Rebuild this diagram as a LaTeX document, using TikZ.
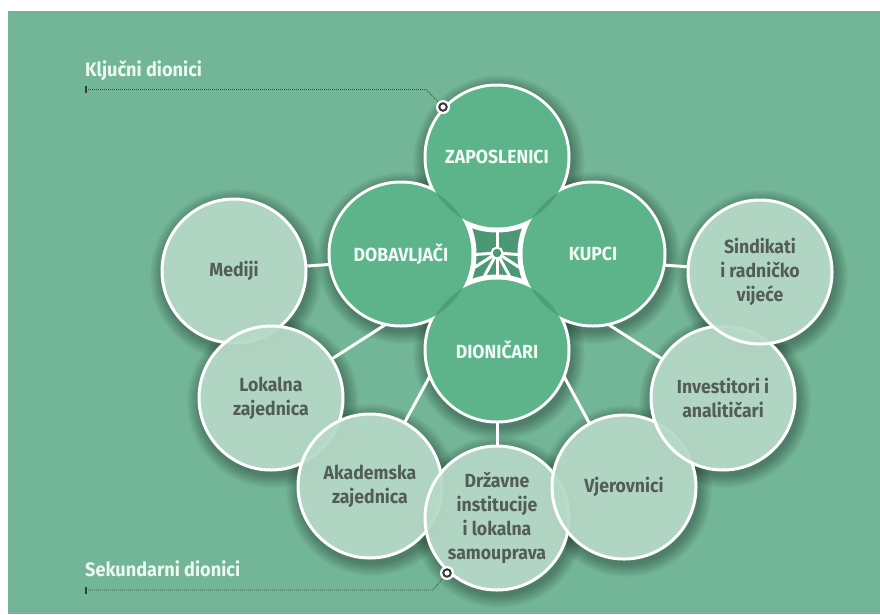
\documentclass[tikz,border=0pt]{standalone}
\usepackage{fontspec}
\setmainfont[FakeStretch=0.93]{Fira Sans}
\usetikzlibrary{calc}
\definecolor{bgC}{HTML}{73B697}
\definecolor{coreC}{HTML}{5DB48A}
\definecolor{lensC}{HTML}{4E9F79}
\definecolor{outerC}{HTML}{B7DAC8}
\definecolor{outerT}{HTML}{535D58}
\definecolor{coreT}{HTML}{F2F8F4}
\definecolor{labelT}{HTML}{EDF7F1}
\definecolor{winC}{HTML}{4C9774}
\definecolor{markC}{HTML}{3A3A3C}
\definecolor{leadC}{HTML}{3F4D46}
\pgfdeclarelayer{bgl}\pgfdeclarelayer{shad}\pgfdeclarelayer{win}\pgfdeclarelayer{lnk}\pgfdeclarelayer{cb}
\pgfsetlayers{bgl,shad,win,lnk,cb,main}
\begin{document}
\begin{tikzpicture}[x=1pt,y=-1pt,
  corec/.style={circle, minimum size=141pt, inner sep=0pt, outer sep=0pt, fill=coreC, text=coreT,
    font=\fontsize{19}{24}\selectfont\bfseries},
  outerc/.style={circle, minimum size=144pt, inner sep=0pt, fill=outerC, fill opacity=0.95, text opacity=1,
    draw=white, draw opacity=1, line width=3pt, text=outerT, align=center,
    font=\fontsize{19}{24}\selectfont\bfseries},
  link/.style={draw=white, line width=3pt},
  leader/.style={draw=leadC, line width=0.9pt, dash pattern=on 0.9pt off 1.1pt},
  lab/.style={text=labelT, font=\fontsize{19.5}{22}\selectfont\bfseries, inner sep=0pt, anchor=base west},
  mkout/.style={circle, fill=white, minimum size=14pt, inner sep=0pt},
  mkin/.style={circle, draw=markC, line width=2pt, fill=white, minimum size=7.5pt, inner sep=0pt}
]
\useasboundingbox (0,0) rectangle (880,614);
\begin{pgfonlayer}{bgl}
\fill[white] (0,0) rectangle (880,614);
\fill[bgC] (8,11) rectangle (880,614);
\end{pgfonlayer}

\coordinate (hub) at (497,253);

% core circles
\node[corec] (zap) at (497,157) {ZAPOSLENICI};
\node[corec] (dob) at (401,254) {DOBAVLJAČI};
\node[corec] (kup) at (593,254) {KUPCI};
\node[corec] (dio) at (497,350) {DIONIČARI};

% lenses between core circles
\foreach \a/\b in {zap/dob, zap/kup, dob/dio, kup/dio}{
  \begin{scope}
    \clip (\a.center) circle (70.5);
    \fill[lensC] (\b.center) circle (70.5);
  \end{scope}
}

% outer circles
\node[outerc] (me) at (234,271) {Mediji};
\node[outerc] (lo) at (271,398) {Lokalna\\zajednica};
\node[outerc] (ak) at (370,486) {Akademska\\zajednica};
\node[outerc] (dr) at (497,518) {Državne\\institucije\\i lokalna\\samouprava};
\node[outerc] (vj) at (624,487) {Vjerovnici};
\node[outerc] (inv) at (723,398) {Investitori i\\analitičari};
\node[outerc] (si) at (760,272) {Sindikati\\i radničko\\vijeće};

% soft shadows
\begin{pgfonlayer}{shad}
\foreach \n in {zap,dob,kup,dio,me,lo,ak,dr,vj,inv,si}{
  \foreach \k in {0,...,12}{
    \fill[black,opacity=0.022] ([shift={(2,4)}]\n.center) circle ({74+\k});
  }
}
\end{pgfonlayer}

% central window
\begin{pgfonlayer}{win}
\fill[winC] ($(hub)+(-34,-34)$) rectangle ($(hub)+(34,34)$);
\end{pgfonlayer}

\begin{pgfonlayer}{lnk}
\draw[link] (hub) -- (zap);
\foreach \n in {me,lo,ak,dr,vj,inv,si}{
  \draw[link] (hub) -- (\n);
}
\end{pgfonlayer}

\begin{pgfonlayer}{cb}
\begin{scope}
  \clip ($(hub)+(-34,-34)$) rectangle ($(hub)+(34,34)$);
  \foreach \n in {zap,dob,kup,dio}{\fill[white] (\n.center) circle (75.5);}
\end{scope}
\foreach \n in {zap,dob,kup,dio}{\fill[white] (\n.center) circle (73.5);}
\end{pgfonlayer}

\node[circle, draw=white, line width=2pt, fill=winC, minimum size=11pt, inner sep=0pt] (hubring) at (hub) {};

% markers and leaders
\node[mkout] (mk1) at (443,107) {};
\node[mkin] (mk1c) at (mk1) {};
\node[mkout] (mk2) at (447,573) {};
\node[mkin] (mk2c) at (mk2) {};

\coordinate (k0) at (86,89.5);
\coordinate (k1) at (426,89.5);
\draw[leader] (k0) -- (k1) -- (mk1);
\draw[markC, line width=1.3pt] ([yshift=-3.5pt]k0) -- ([yshift=3.5pt]k0);

\coordinate (s0) at (86,590);
\coordinate (s1) at (433,590);
\draw[leader] (s0) -- (s1) -- (mk2);
\draw[markC, line width=1.3pt] ([yshift=-3.5pt]s0) -- ([yshift=3.5pt]s0);

\node[lab] (lk) at (85,76) {Ključni dionici};
\node[lab] (ls) at (85,576) {Sekundarni dionici};
\end{tikzpicture}
\end{document}
